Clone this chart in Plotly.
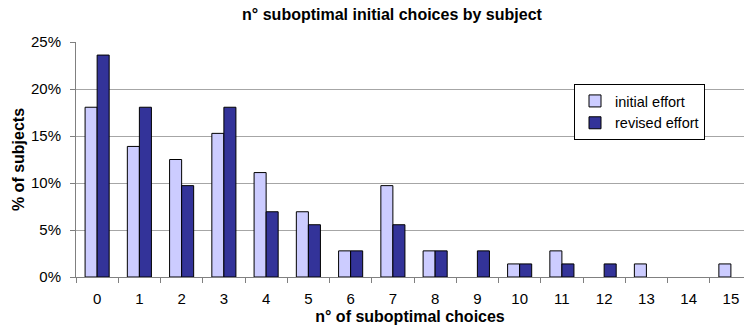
import plotly.graph_objects as go

# Number of suboptimal choices per subject (x categories)
choices = [str(i) for i in range(16)]

# Share of subjects (%) for each count
initial_effort = [18.06, 13.89, 12.50, 15.28, 11.11, 6.94, 2.78, 9.72,
                  2.78, 0.0, 1.39, 2.78, 0.0, 1.39, 0.0, 1.39]
revised_effort = [23.61, 18.06, 9.72, 18.06, 6.94, 5.56, 2.78, 5.56,
                  2.78, 2.78, 1.39, 1.39, 1.39, 0.0, 0.0, 0.0]

y_ticks = [0, 5, 10, 15, 20, 25]
y_tick_labels = ["0%", "5%", "10%", "15%", "20%", "25%"]

FONT = "Arial, Liberation Sans, sans-serif"


def outline_widths(values):
    # empty categories get no outline, so no flat line is drawn on the axis
    return [1 if v > 0 else 0 for v in values]


fig = go.Figure()
fig.add_trace(go.Bar(
    x=choices, y=initial_effort, name="initial effort", legendgroup="a",
    marker=dict(color="#CCCCFF",
                line=dict(color="#000000", width=outline_widths(initial_effort))),
))
fig.add_trace(go.Bar(
    x=choices, y=revised_effort, name="revised effort", legendgroup="b",
    marker=dict(color="#333399",
                line=dict(color="#000000", width=outline_widths(revised_effort))),
))

fig.update_layout(
    width=744, height=335,
    margin=dict(l=76, r=0, t=42, b=58, autoexpand=False),
    paper_bgcolor="white", plot_bgcolor="white",
    barmode="group", bargap=0.43, bargroupgap=0.0,
    font=dict(family=FONT, size=15, color="black"),
    title=dict(
        text="<b>n° suboptimal initial choices by subject</b>",
        font=dict(family=FONT, size=16, color="black"),
        x=392 / 744, xref="container", xanchor="center",
        y=1 - 14 / 335, yref="container", yanchor="middle",
    ),
    legend=dict(
        x=(574 - 76) / 668, y=(277 - 84) / 235, xanchor="left", yanchor="top",
        bgcolor="white", bordercolor="black", borderwidth=1,
        font=dict(family=FONT, size=14.5, color="black"),
        traceorder="grouped", tracegroupgap=0, itemwidth=30,
    ),
    showlegend=True,
)

fig.update_xaxes(
    type="category", range=[-0.5, 15.31],
    tickson="boundaries", ticks="outside", ticklen=5, tickcolor="#808080",
    ticklabelstandoff=8,
    showline=True, linecolor="#808080", linewidth=1,
    showgrid=False, tickfont=dict(size=15),
    title=dict(text="<b>n° of suboptimal choices</b>",
               font=dict(family=FONT, size=16), standoff=4),
)
fig.update_yaxes(
    range=[0, 25], tickvals=y_ticks, ticktext=y_tick_labels,
    ticks="outside", ticklen=5, tickcolor="#808080",
    ticklabelstandoff=6,
    showline=True, linecolor="#808080", linewidth=1,
    showgrid=True, gridcolor="#A6A6A6", gridwidth=1,
    zeroline=False, tickfont=dict(size=15),
    title=dict(text="<b>% of subjects</b>",
               font=dict(family=FONT, size=16), standoff=2),
)

fig.write_html("out.html")
